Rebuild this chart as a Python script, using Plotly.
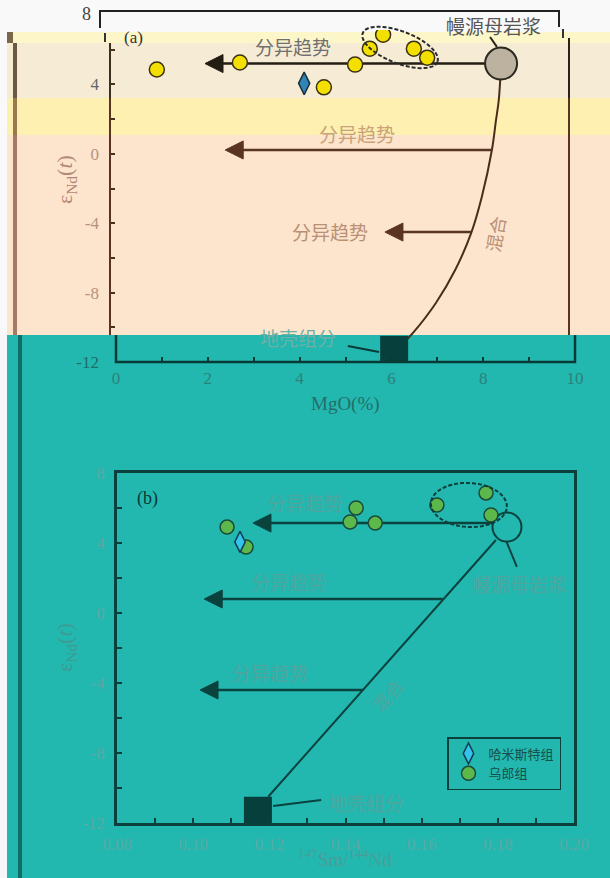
import numpy as np
import plotly.graph_objects as go

W, H = 610, 878

# ---------------- panel (a): MgO(%) vs eNd(t) ----------------
a_wulang_mgo = [1.02, 2.83, 4.66, 5.34, 5.66, 6.62, 6.91, 5.95]
a_wulang_end = [4.86, 5.26, 3.83, 5.14, 6.06, 6.06, 5.54, 6.86]
a_hamist_mgo = [4.23]
a_hamist_end = [4.06]
a_mantle_mgo = [8.52]
a_mantle_end = [5.20]
a_crust_mgo = [6.06]
a_crust_end = [-11.30]
a_mix_mgo = [8.52, 8.47, 8.41, 8.32, 8.10, 7.87, 7.52, 7.10, 6.62, 6.38]
a_mix_end = [5.20, 3.10, 1.95, 0.22, -2.49, -4.56, -6.70, -8.60, -10.27, -10.95]
a_arrow_end = [5.20, 0.22, -4.51]
a_arrow_from = [8.52, 8.32, 7.87]
a_arrow_to = [2.07, 2.51, 5.99]
a_yticks = [-12, -8, -4, 0, 4]
a_yticklabels = ["-12", "-8", "-4", "0", "4"]
a_ytop_label = "8"
a_xticks = [0, 2, 4, 6, 8, 10]
a_xticklabels = ["0", "2", "4", "6", "8", "10"]

# ---------------- panel (b): 147Sm/144Nd vs eNd(t) ----------------
b_wulang_sm = [0.1089, 0.1139, 0.1428, 0.1412, 0.1478, 0.1640, 0.1769, 0.1782]
b_wulang_end = [4.91, 3.77, 6.00, 5.20, 5.14, 6.17, 6.86, 5.60]
b_hamist_sm = [0.1123]
b_hamist_end = [4.06]
b_mantle_sm = [0.1824]
b_mantle_end = [4.91]
b_crust_sm = [0.1170]
b_crust_end = [-11.30]
b_mix_sm = [0.1795, 0.1197]
b_mix_end = [4.17, -10.50]
b_arrow_end = [5.14, 0.80, -4.40]
b_arrow_from = [0.1800, 0.1655, 0.1445]
b_arrow_to = [0.1157, 0.1029, 0.1018]
b_xticks = [0.08, 0.10, 0.12, 0.14, 0.16, 0.18, 0.20]
b_xticklabels = ["0.08", "0.10", "0.12", "0.14", "0.16", "0.18", "0.20"]
b_yticks = [-12, -8, -4, 0, 4, 8]
b_yticklabels = ["-12", "-8", "-4", "0", "4", "8"]

# ---------------- geometry helpers ----------------
def X(px):
    return px / W

def Y(py):
    return 1 - py / H

A_XPX = (110, 569)
A_X3PX = (116, 575)
A_YPX = (15, 362)
B_XPX = (117, 574)
B_YPX = (473, 823)
a_xs = (A_XPX[1] - A_XPX[0]) / 10.0
a_ys = (A_YPX[1] - A_YPX[0]) / 20.0
b_xs = (B_XPX[1] - B_XPX[0]) / 0.12
b_ys = (B_YPX[1] - B_YPX[0]) / 20.0

SERIF = "Liberation Serif"
CJK = "Noto Sans CJK SC"
TEAL = "#22b8b0"
DTEAL = "#0a423e"

def head_path(tip, yv, xs, ys, L=18, Hh=18):
    bx = tip + L / xs
    dy = (Hh / 2) / ys
    return f"M{tip},{yv} L{bx},{yv + dy} L{bx},{yv - dy} Z"

def ellipse_path(cx, cy, rx, ry, ang, xs, ys, n=90):
    t = np.linspace(0, 2 * np.pi, n)
    a = np.radians(ang)
    dx = rx * np.cos(t) * np.cos(a) - ry * np.sin(t) * np.sin(a)
    dy = rx * np.cos(t) * np.sin(a) + ry * np.sin(t) * np.cos(a)
    xx = cx + dx / xs
    yy = cy + dy / ys
    return "M" + " L".join(f"{u:.5f},{v:.5f}" for u, v in zip(xx, yy)) + " Z"

fig = go.Figure()

# ---------------- panel (a) traces ----------------
fig.add_trace(go.Scatter(x=a_mix_mgo, y=a_mix_end, mode="lines", xaxis="x", yaxis="y",
                         line=dict(color="#4a2c1c", width=2, shape="spline"), showlegend=False, hoverinfo="skip"))
a_arrow_cols = ["#231d12", "#5a3422", "#5a3422"]
for yv, x0, x1, c in zip(a_arrow_end, a_arrow_from, a_arrow_to, a_arrow_cols):
    fig.add_trace(go.Scatter(x=[x0, x1 + 9 / a_xs], y=[yv, yv], mode="lines", xaxis="x", yaxis="y",
                             line=dict(color=c, width=2.5), showlegend=False, hoverinfo="skip"))
fig.add_trace(go.Scatter(x=[8.28, 8.43], y=[6.73, 6.16], mode="lines", xaxis="x", yaxis="y",
                         line=dict(color="#2a2418", width=2), showlegend=False, hoverinfo="skip"))
fig.add_trace(go.Scatter(x=a_mantle_mgo, y=a_mantle_end, mode="markers", xaxis="x", yaxis="y",
                         marker=dict(symbol="circle", size=32, color="#bdb2a0", line=dict(color="#2a2820", width=2)),
                         showlegend=False))
fig.add_trace(go.Scatter(x=a_wulang_mgo, y=a_wulang_end, mode="markers", xaxis="x", yaxis="y",
                         marker=dict(symbol="circle", size=15, color="#f3e000", line=dict(color="#3a3010", width=1.5)),
                         showlegend=False))
fig.add_trace(go.Scatter(x=a_hamist_mgo, y=a_hamist_end, mode="markers", xaxis="x", yaxis="y",
                         marker=dict(symbol="diamond-tall", size=16, color="#2f86b5", line=dict(color="#1c2c3c", width=1.5)),
                         showlegend=False))
fig.add_trace(go.Scatter(x=[5.05, 5.73], y=[-11.08, -11.42], mode="lines", xaxis="x3", yaxis="y",
                         line=dict(color="#083a36", width=2), showlegend=False, hoverinfo="skip"))
fig.add_trace(go.Scatter(x=a_crust_mgo, y=a_crust_end, mode="markers", xaxis="x3", yaxis="y",
                         marker=dict(symbol="square", size=28, color="#063f3b", line=dict(width=0)),
                         showlegend=False))

# ---------------- panel (b) traces ----------------
fig.add_trace(go.Scatter(x=b_mix_sm, y=b_mix_end, mode="lines", xaxis="x2", yaxis="y2",
                         line=dict(color=DTEAL, width=2), showlegend=False, hoverinfo="skip"))
for yv, x0, x1 in zip(b_arrow_end, b_arrow_from, b_arrow_to):
    fig.add_trace(go.Scatter(x=[x0, x1 + 9 / b_xs], y=[yv, yv], mode="lines", xaxis="x2", yaxis="y2",
                             line=dict(color=DTEAL, width=2.5), showlegend=False, hoverinfo="skip"))
fig.add_trace(go.Scatter(x=[0.1821, 0.1850], y=[4.17, 2.63], mode="lines", xaxis="x2", yaxis="y2",
                         line=dict(color=DTEAL, width=2), showlegend=False, hoverinfo="skip"))
fig.add_trace(go.Scatter(x=[0.1210, 0.1336], y=[-11.03, -10.69], mode="lines", xaxis="x2", yaxis="y2",
                         line=dict(color=DTEAL, width=2), showlegend=False, hoverinfo="skip"))
fig.add_trace(go.Scatter(x=b_mantle_sm, y=b_mantle_end, mode="markers", xaxis="x2", yaxis="y2",
                         marker=dict(symbol="circle", size=29, color=TEAL, line=dict(color=DTEAL, width=2)),
                         showlegend=False))
fig.add_trace(go.Scatter(x=b_crust_sm, y=b_crust_end, mode="markers", xaxis="x2", yaxis="y2",
                         marker=dict(symbol="square", size=28, color="#063f3b", line=dict(width=0)),
                         showlegend=False))
fig.add_trace(go.Scatter(x=b_wulang_sm, y=b_wulang_end, mode="markers", xaxis="x2", yaxis="y2", name="乌郎组",
                         legendrank=2,
                         marker=dict(symbol="circle", size=14, color="#5db84c", line=dict(color="#1a4a3a", width=1.5))))
fig.add_trace(go.Scatter(x=b_hamist_sm, y=b_hamist_end, mode="markers", xaxis="x2", yaxis="y2", name="哈米斯特组",
                         legendrank=1,
                         marker=dict(symbol="diamond-tall", size=15, color="#33c4ee", line=dict(color="#123c50", width=1.5))))

# ---------------- shapes ----------------
shapes = []
def rect(x0, y0, x1, y1, col, layer="below"):
    shapes.append(dict(type="rect", xref="paper", yref="paper", x0=X(x0), x1=X(x1), y0=Y(y1), y1=Y(y0),
                       fillcolor=col, line=dict(width=0), layer=layer))

def seg(x0, y0, x1, y1, col, w=2, layer="above"):
    shapes.append(dict(type="line", xref="paper", yref="paper", x0=X(x0), y0=Y(y0), x1=X(x1), y1=Y(y1),
                       line=dict(color=col, width=w), layer=layer))

rect(0, 0, 610, 32, "#f9f9f9")
rect(0, 32, 610, 43, "#fdf6c8")
rect(0, 43, 610, 98, "#f6ecd5")
rect(0, 98, 610, 135, "#fdf0b0")
rect(0, 135, 610, 335, "#fde4cc")
rect(0, 335, 7, 878, "#f6f6f6")
rect(0, 0, 7, 335, "#f9f9f9")
rect(7, 32, 13, 43, "#7a6848")
rect(13, 43, 17, 98, "#6b5a40")
rect(13, 98, 17, 135, "#9a7a4a")
rect(13, 135, 17, 335, "#a27a66")
rect(18, 335, 22, 878, "#0f6f68")
rect(95, 0, 610, 30, "#f9f9f9", layer="above")

shapes.append(dict(type="path", xref="paper", yref="paper",
                   path=f"M{X(100)},{Y(28)} L{X(100)},{Y(11)} L{X(559)},{Y(11)} L{X(559)},{Y(27)}",
                   line=dict(color="#222222", width=2), layer="above"))
seg(105, 33, 105, 42, "#333333", 2)
seg(563, 29, 563, 38, "#333333", 2)
seg(110, 43, 110, 98, "#3a3020", 2)
seg(110, 98, 110, 335, "#5a3422", 2)
seg(569, 38, 569, 98, "#2a2418", 2)
seg(569, 98, 569, 335, "#5a3422", 2)
shapes.append(dict(type="path", xref="paper", yref="paper",
                   path=f"M{X(116)},{Y(335)} L{X(116)},{Y(362)} L{X(575)},{Y(362)} L{X(575)},{Y(335)}",
                   line=dict(color="#083a36", width=2.5), layer="above"))

for yv, x1, c in zip(a_arrow_end, a_arrow_to, a_arrow_cols):
    shapes.append(dict(type="path", xref="x", yref="y", path=head_path(x1, yv, a_xs, a_ys),
                       fillcolor=c, line=dict(color=c, width=1)))
for yv, x1 in zip(b_arrow_end, b_arrow_to):
    shapes.append(dict(type="path", xref="x2", yref="y2", path=head_path(x1, yv, b_xs, b_ys),
                       fillcolor=DTEAL, line=dict(color=DTEAL, width=1)))

shapes.append(dict(type="path", xref="x", yref="y", path=ellipse_path(6.32, 6.13, 40, 16, -21, a_xs, a_ys),
                   line=dict(color="#2a2a2a", width=2, dash="4px,2px")))
shapes.append(dict(type="path", xref="x2", yref="y2", path=ellipse_path(0.1724, 6.17, 38, 22, -3, b_xs, b_ys),
                   line=dict(color="#0b3f3b", width=2, dash="4px,2px")))

# ---------------- annotations ----------------
ann = []
def txt(s, px, py, color, size, family=CJK, angle=0):
    ann.append(dict(text=s, x=X(px), y=Y(py), xref="paper", yref="paper", showarrow=False,
                    font=dict(family=family, size=size, color=color), textangle=angle,
                    xanchor="center", yanchor="middle"))

txt("(a)", 133, 37, "#333333", 17, SERIF)
txt(a_ytop_label, 86, 14, "#444444", 18, SERIF)
txt("分异趋势", 293, 46, "#707070", 19)
txt("幔源母岩浆", 493, 25, "#555555", 19)
txt("分异趋势", 357, 133, "#c9a27a", 19)
txt("分异趋势", 330, 232, "#b99075", 19)
txt("混合", 495, 234, "#b89078", 18, CJK, -80)
txt("地壳组分", 298, 338, "#6fb0a6", 19)
txt("MgO(%)", 345, 404, "#256e68", 19, SERIF)
txt("ε<sub>Nd</sub>(<i>t</i>)", 66, 180, "#b08878", 22, SERIF, -90)

txt("(b)", 147, 498, "#0a3835", 18, SERIF)
txt("分异趋势", 305, 502, "#4fa59e", 19)
txt("分异趋势", 289, 581, "#4fa59e", 19)
txt("分异趋势", 270, 672, "#4fa59e", 19)
txt("幔源母岩浆", 519, 583, "#4fa59e", 19)
txt("混合", 387, 695, "#4fa59e", 18, CJK, -50)
txt("地壳组分", 366, 802, "#4fa59e", 19)
txt("<sup>147</sup>Sm/<sup>144</sup>Nd", 345, 858, "#4b9e97", 19, SERIF)
txt("ε<sub>Nd</sub>(<i>t</i>)", 66, 648, "#3f9a92", 22, SERIF, -90)

a_ycols = ["#1f6c66", "#b8917e", "#b8917e", "#b8917e", "#666666"]
a_yticktext = [f'<span style="color:{c}">{t}</span>' for t, c in zip(a_yticklabels, a_ycols)]

fig.update_layout(
    width=W, height=H, margin=dict(l=0, r=0, t=0, b=0, pad=0, autoexpand=False),
    paper_bgcolor=TEAL, plot_bgcolor="rgba(0,0,0,0)",
    shapes=shapes, annotations=ann,
    showlegend=True,
    legend=dict(x=X(447), y=Y(737), xanchor="left", yanchor="top", bgcolor=TEAL,
                bordercolor="#0b403c", borderwidth=1.5,
                font=dict(family=CJK, size=13, color="#17504b"), tracegroupgap=0),
    xaxis=dict(domain=[X(A_XPX[0]), X(A_XPX[1])], range=[0, 10], anchor="y", showticklabels=False,
               ticks="", showgrid=False, zeroline=False, showline=False, automargin=False),
    yaxis=dict(domain=[Y(A_YPX[1]), Y(A_YPX[0])], range=[-12, 8], anchor="x",
               tickmode="array", tickvals=a_yticks, ticktext=a_yticktext,
               ticks="inside", ticklen=5, tickwidth=1.5, tickcolor="#4a3020",
               minor=dict(tickmode="linear", tick0=0, dtick=2, ticks="inside", ticklen=5, tickwidth=1.5,
                          tickcolor="#4a3020"),
               showgrid=False, zeroline=False, showline=False, automargin=False,
               tickfont=dict(family=SERIF, size=17, color="#b8917e"), ticklabelstandoff=10),
    xaxis3=dict(domain=[X(A_X3PX[0]), X(A_X3PX[1])], range=[0, 10], anchor="y",
                tickmode="array", tickvals=a_xticks, ticktext=a_xticklabels,
                ticks="inside", ticklen=5, tickwidth=1.5, tickcolor="#083a36",
                minor=dict(tickmode="linear", tick0=0, dtick=1, ticks="inside", ticklen=5, tickwidth=1.5,
                           tickcolor="#083a36"),
                showgrid=False, zeroline=False, showline=False, automargin=False,
                tickfont=dict(family=SERIF, size=17, color="#2c8179"), ticklabelstandoff=4),
    xaxis2=dict(domain=[X(B_XPX[0]), X(B_XPX[1])], range=[0.08, 0.20], anchor="y2",
                tickmode="array", tickvals=b_xticks, ticktext=b_xticklabels,
                ticks="inside", ticklen=5, tickwidth=1.5, tickcolor="#0b403c",
                minor=dict(tickmode="linear", tick0=0.08, dtick=0.01, ticks="inside", ticklen=5, tickwidth=1.5,
                           tickcolor="#0b403c"),
                showline=True, mirror=True, linecolor="#0b403c", linewidth=2.5,
                showgrid=False, zeroline=False, automargin=False,
                tickfont=dict(family=SERIF, size=17, color="#5aa9a2"), ticklabelstandoff=4),
    yaxis2=dict(domain=[Y(B_YPX[1]), Y(B_YPX[0])], range=[-12, 8], anchor="x2",
                tickmode="array", tickvals=b_yticks, ticktext=b_yticklabels,
                ticks="inside", ticklen=5, tickwidth=1.5, tickcolor="#0b403c",
                minor=dict(tickmode="linear", tick0=0, dtick=2, ticks="inside", ticklen=5, tickwidth=1.5,
                           tickcolor="#0b403c"),
                showline=True, mirror=True, linecolor="#0b403c", linewidth=2.5,
                showgrid=False, zeroline=False, automargin=False,
                tickfont=dict(family=SERIF, size=17, color="#5aa9a2"), ticklabelstandoff=6),
)

fig.write_html("out.html", config={"displayModeBar": False},
               post_script="document.body.style.margin='0';document.body.style.overflow='hidden';")
